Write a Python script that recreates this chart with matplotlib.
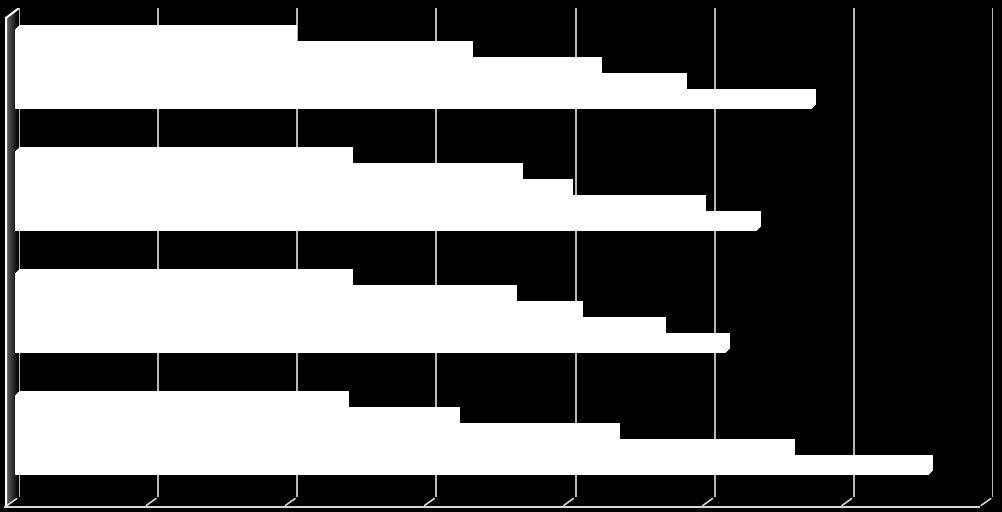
import numpy as np
import matplotlib
matplotlib.use("Agg")
import matplotlib.pyplot as plt
from matplotlib.transforms import ScaledTranslation
from matplotlib.patches import Polygon

# --- donnees (4 groupes, 5 series) ---
categories = ["G1", "G2", "G3", "G4"]
series_1 = [2.00, 2.40, 2.40, 2.37]
series_2 = [3.26, 3.62, 3.58, 3.17]
series_3 = [4.19, 3.98, 4.05, 4.32]
series_4 = [4.80, 4.94, 4.65, 5.58]
series_5 = [5.73, 5.33, 5.11, 6.57]
all_series = [series_1, series_2, series_3, series_4, series_5]
x_ticks = [0, 1, 2, 3, 4, 5, 6, 7]

W, H = 1002, 512
fig = plt.figure(figsize=(W / 100, H / 100), dpi=100, facecolor="black")

def fx(px):
    return px / W

def fy(py):
    return 1 - py / H

# mur gauche (degrade gris -> noir)
wall = fig.add_axes([fx(5), fy(507), fx(19) - fx(5), fy(8) - fy(507)])
wall.set_axis_off()
wall.set_xlim(0, 14)
wall.set_ylim(499, 0)
grad = np.tile(np.linspace(0.42, 0.0, 50), (50, 1))
im = wall.imshow(grad, cmap="gray", vmin=0, vmax=1, extent=[0, 14, 499, 0], aspect="auto")
poly = Polygon([(0, 10), (14, 0), (14, 489), (0, 499)], closed=True, transform=wall.transData)
im.set_clip_path(poly)
wall.plot([1, 1], [10, 499], color="white", lw=1.6)
wall.plot([1, 14], [10, 0], color="white", lw=1.6)

# axe principal (plan du fond)
ax = fig.add_axes([fx(19), fy(497), fx(993) - fx(19), fy(8) - fy(497)])
ax.set_facecolor("black")
ax.set_xlim(0, 7)
ax.set_ylim(3.541, -0.467)
for s in ax.spines.values():
    s.set_visible(False)
ax.set_xticks([])
ax.set_yticks([])

for g in x_ticks:
    ax.axvline(g, color="#dcdcdc", lw=1.2, zorder=1)
    ax.annotate("", xy=(g, 3.541), xytext=(-14, -10), textcoords="offset pixels",
                arrowprops=dict(arrowstyle="-", color="#dcdcdc", lw=1.2), annotation_clip=False)

front = ax.transData + ScaledTranslation(-14 / 100, -10 / 100, fig.dpi_scale_trans)
ax.plot([0, 7], [3.541, 3.541], color="#dcdcdc", lw=1.4, transform=front, clip_on=False)

# barres en faux 3D : plusieurs copies decalees (profondeur ~4 px)
bar_h = 0.131
y = np.arange(len(categories))
for i, vals in enumerate(all_series):
    pos = y + (i - 2) * bar_h
    for d in range(5):
        shift = ax.transData + ScaledTranslation(-d / 100, -d / 100, fig.dpi_scale_trans)
        bars = ax.barh(pos, vals, height=bar_h, color="white", edgecolor="none", zorder=3)
        for b in bars:
            b.set_transform(shift)
            b.set_clip_on(False)

fig.savefig("out.png", dpi=100, facecolor="black")
